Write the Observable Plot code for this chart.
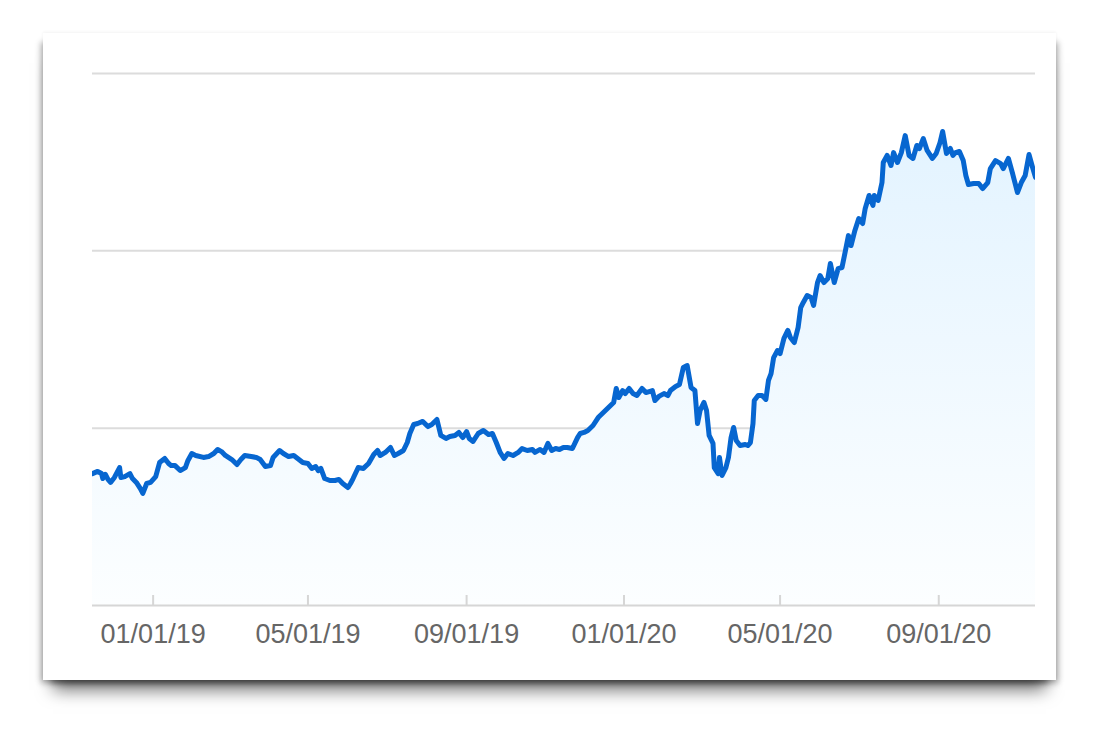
<!DOCTYPE html>
<html>
<head>
<meta charset="utf-8">
<script src="https://cdn.jsdelivr.net/npm/d3@7"></script>
<script src="https://cdn.jsdelivr.net/npm/@observablehq/plot@0.6"></script>
<style>
html, body { margin: 0; padding: 0; background: #fff; width: 1112px; height: 740px; overflow: hidden; }
#card {
  position: absolute; left: 43px; top: 33px; width: 1013px; height: 647px; background: #fff;
  box-shadow: 0 20px 16px -10px rgba(0,0,0,0.55), -5px 6px 6px -3px rgba(0,0,0,0.32), 5px 6px 6px -3px rgba(0,0,0,0.32), 0 -1px 3px rgba(0,0,0,0.05);
}
</style>
</head>
<body>
<div id="card"></div>
<script>
const dates = [
  "2018-11-15","2018-11-19","2018-11-22","2018-11-23","2018-11-25","2018-11-27","2018-11-29","2018-12-02","2018-12-06","2018-12-07",
  "2018-12-10","2018-12-14","2018-12-16","2018-12-19","2018-12-22","2018-12-24","2018-12-27","2018-12-30","2019-01-03","2019-01-06",
  "2019-01-10","2019-01-13","2019-01-15","2019-01-18","2019-01-22","2019-01-26","2019-01-28","2019-01-31","2019-02-03","2019-02-09",
  "2019-02-13","2019-02-17","2019-02-20","2019-02-23","2019-02-26","2019-03-03","2019-03-07","2019-03-10","2019-03-13","2019-03-18",
  "2019-03-22","2019-03-25","2019-03-29","2019-04-02","2019-04-04","2019-04-09","2019-04-12","2019-04-16","2019-04-20","2019-04-23",
  "2019-04-27","2019-05-01","2019-05-04","2019-05-07","2019-05-09","2019-05-11","2019-05-14","2019-05-18","2019-05-22","2019-05-25",
  "2019-05-28","2019-06-01","2019-06-03","2019-06-05","2019-06-09","2019-06-13","2019-06-17","2019-06-21","2019-06-24","2019-06-26",
  "2019-06-30","2019-07-04","2019-07-07","2019-07-10","2019-07-14","2019-07-17","2019-07-19","2019-07-22","2019-07-25","2019-07-29",
  "2019-08-02","2019-08-05","2019-08-09","2019-08-12","2019-08-16","2019-08-19","2019-08-23","2019-08-26","2019-08-29","2019-09-01",
  "2019-09-03","2019-09-06","2019-09-10","2019-09-14","2019-09-18","2019-09-21","2019-09-24","2019-09-27","2019-09-30","2019-10-03",
  "2019-10-07","2019-10-11","2019-10-14","2019-10-18","2019-10-22","2019-10-24","2019-10-28","2019-10-31","2019-11-03","2019-11-06",
  "2019-11-09","2019-11-12","2019-11-15","2019-11-18","2019-11-22","2019-11-26","2019-11-28","2019-12-01","2019-12-04","2019-12-08",
  "2019-12-12","2019-12-16","2019-12-20","2019-12-24","2019-12-26","2019-12-28","2019-12-31","2020-01-02","2020-01-05","2020-01-08",
  "2020-01-11","2020-01-15","2020-01-18","2020-01-23","2020-01-25","2020-01-28","2020-02-01","2020-02-04","2020-02-06","2020-02-10",
  "2020-02-13","2020-02-16","2020-02-19","2020-02-22","2020-02-25","2020-02-27","2020-02-29","2020-03-03","2020-03-05","2020-03-07",
  "2020-03-10","2020-03-11","2020-03-14","2020-03-15","2020-03-17","2020-03-20","2020-03-22","2020-03-24","2020-03-26","2020-03-28",
  "2020-03-31","2020-04-04","2020-04-06","2020-04-08","2020-04-10","2020-04-11","2020-04-14","2020-04-17","2020-04-20","2020-04-22",
  "2020-04-24","2020-04-26","2020-04-29","2020-05-01","2020-05-04","2020-05-07","2020-05-09","2020-05-12","2020-05-15","2020-05-17",
  "2020-05-19","2020-05-22","2020-05-25","2020-05-27","2020-05-30","2020-06-01","2020-06-04","2020-06-07","2020-06-09","2020-06-12",
  "2020-06-15","2020-06-18","2020-06-21","2020-06-23","2020-06-25","2020-06-28","2020-07-01","2020-07-04","2020-07-06","2020-07-09",
  "2020-07-12","2020-07-13","2020-07-16","2020-07-19","2020-07-20","2020-07-23","2020-07-26","2020-07-28","2020-07-31","2020-08-03",
  "2020-08-06","2020-08-09","2020-08-12","2020-08-15","2020-08-17","2020-08-20","2020-08-23","2020-08-27","2020-08-30","2020-09-02",
  "2020-09-04","2020-09-07","2020-09-10","2020-09-12","2020-09-14","2020-09-17","2020-09-20","2020-09-22","2020-09-24","2020-09-28",
  "2020-10-02","2020-10-05","2020-10-09","2020-10-11","2020-10-15","2020-10-19","2020-10-21","2020-10-25","2020-10-28","2020-11-01",
  "2020-11-04","2020-11-07","2020-11-10","2020-11-13","2020-11-15"
];
const values = [
  74.4,75.6,74.4,71.6,73.9,71.1,69.4,72.2,77.8,72.2,
  72.7,74.4,71.6,69.4,66.0,63.2,68.8,69.4,72.7,80.6,
  82.9,80.1,78.9,78.9,76.1,77.8,81.8,85.7,84.6,83.5,
  84.0,85.7,88.0,86.8,84.6,82.3,79.5,82.3,84.6,84.0,
  83.5,82.3,78.4,78.9,83.5,87.4,85.7,84.0,84.6,82.9,
  80.6,80.1,77.3,78.4,76.1,77.3,71.6,70.5,70.5,71.1,
  68.8,66.5,68.8,71.6,77.8,77.3,80.1,85.1,87.4,84.6,
  86.3,89.1,84.6,85.7,87.4,91.9,97.0,102.1,102.6,103.8,
  100.9,102.1,104.9,95.9,94.2,95.3,95.9,97.6,94.7,98.1,
  94.2,92.5,97.0,98.7,96.4,97.0,91.9,86.3,82.9,85.7,
  84.6,86.3,88.5,87.4,88.0,86.3,88.0,86.3,91.4,87.4,
  88.5,88.0,89.1,89.1,88.5,94.7,97.0,97.6,98.7,101.5,
  106.0,108.8,111.7,114.5,122.4,117.3,121.2,119.5,122.4,119.5,
  118.4,122.4,120.1,121.2,115.6,117.9,119.5,118.4,121.2,123.5,
  124.6,134.2,135.3,122.9,121.2,102.6,110.0,114.5,110.0,95.9,
  91.4,77.8,74.4,83.5,73.3,77.8,83.5,94.7,100.4,93.0,
  90.2,90.8,90.2,91.9,102.6,115.6,118.4,118.4,116.2,126.9,
  130.8,139.8,143.8,142.1,150.6,155.1,151.1,148.3,156.8,168.0,
  170.9,174.8,173.7,169.2,182.1,186.1,182.1,184.4,192.9,182.1,
  190.0,190.6,201.3,208.6,203.0,211.5,218.2,215.4,223.9,231.2,
  225.6,231.2,228.4,238.5,249.8,253.8,248.1,255.4,249.8,255.4,
  265.0,253.8,252.1,259.4,257.7,263.3,256.6,252.1,254.9,261.1,
  267.3,254.9,257.7,253.8,255.4,256.0,250.9,242.5,237.4,238.0,
  238.0,235.1,238.5,246.4,250.9,249.2,246.4,252.1,244.2,232.9,
  238.5,242.5,254.3,246.4,241.4
];
const tickDates = ["2019-01-01","2019-05-01","2019-09-01","2020-01-01","2020-05-01","2020-09-01"];
const gridValues = [100, 200, 300];
const xDomain = ["2018-11-15", "2020-11-15"];
const yDomain = [0, 300];

const data = dates.map((d, i) => ({date: new Date(d), value: values[i]}));

const gradientDefs = (index, scales, values, dims) => {
  const defs = d3.create("svg:defs");
  const g = defs.append("linearGradient")
    .attr("id", "areaGrad")
    .attr("gradientUnits", "userSpaceOnUse")
    .attr("x1", 0).attr("x2", 0)
    .attr("y1", dims.marginTop)
    .attr("y2", dims.height - dims.marginBottom);
  g.append("stop").attr("offset", "0%").attr("stop-color", "#e0f2ff");
  g.append("stop").attr("offset", "100%").attr("stop-color", "#fcfeff");
  return defs.node();
};

const chart = Plot.plot({
  width: 1013,
  height: 647,
  marginLeft: 49,
  marginRight: 21,
  marginTop: 40,
  marginBottom: 75,
  style: {background: "transparent", fontFamily: "'Liberation Sans', Arial, sans-serif", color: "#666"},
  x: {type: "utc", domain: xDomain.map(d => new Date(d)), label: null},
  y: {domain: yDomain, axis: null, label: null},
  marks: [
    gradientDefs,
    Plot.ruleY(gridValues, {stroke: "#dcdcdc", strokeWidth: 2}),
    Plot.areaY(data, {x: "date", y: "value", fill: "url(#areaGrad)", clip: true}),
    Plot.ruleY([0], {stroke: "#d6d6d6", strokeWidth: 2}),
    Plot.lineY(data, {x: "date", y: "value", stroke: "#0766d0", strokeWidth: 5, strokeLinejoin: "round", strokeLinecap: "round", clip: true}),
    Plot.axisX(tickDates.map(d => new Date(d)), {
      tickSize: -10, tickPadding: 28,
      tickFormat: d3.utcFormat("%m/%d/%y"),
      stroke: "#d6d6d6", strokeWidth: 2, fill: "#666", fontSize: 27, label: null
    })
  ]
});
document.getElementById("card").appendChild(chart);
</script>
</body>
</html>
